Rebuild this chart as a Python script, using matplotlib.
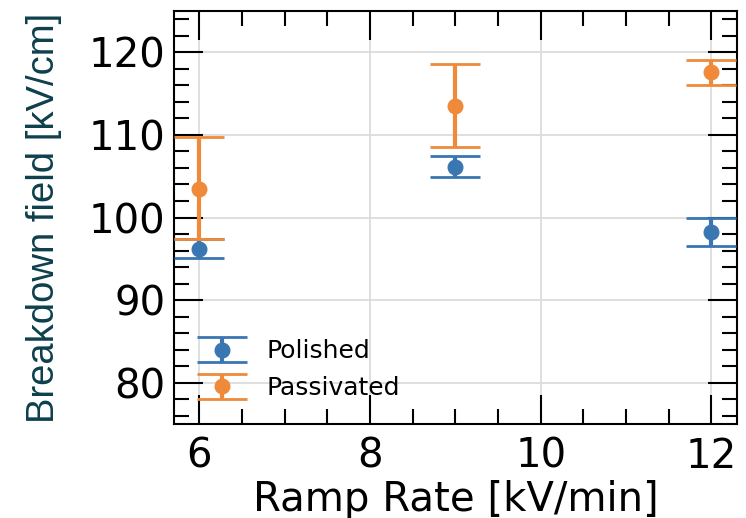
import matplotlib
matplotlib.use("Agg")
import matplotlib.pyplot as plt
from matplotlib.ticker import MultipleLocator

ramp_rate = [6, 9, 12]
polished = [96.2, 106.1, 98.2]
polished_lo = [1.1, 1.2, 1.7]
polished_hi = [1.2, 1.3, 1.7]
passivated = [103.5, 113.5, 117.6]
passivated_lo = [6.1, 5.0, 1.6]
passivated_hi = [6.2, 5.1, 1.5]

blue = '#3a76b2'
orange = '#ef8a3a'

fig = plt.figure(figsize=(7.46, 5.18), dpi=100)
ax = fig.add_axes([0.233, 0.181, 0.755, 0.798])

ax.errorbar(ramp_rate, polished, yerr=[polished_lo, polished_hi], fmt='o',
            color=blue, ms=10.5, elinewidth=3, capsize=18, capthick=2,
            label='Polished', zorder=3)
ax.errorbar(ramp_rate, passivated, yerr=[passivated_lo, passivated_hi], fmt='o',
            color=orange, ms=10.5, elinewidth=3, capsize=18, capthick=2,
            label='Passivated', zorder=3)

ax.set_xlim(5.7, 12.3)
ax.set_ylim(75, 125)
ax.xaxis.set_major_locator(MultipleLocator(2))
ax.xaxis.set_minor_locator(MultipleLocator(0.5))
ax.yaxis.set_major_locator(MultipleLocator(10))
ax.yaxis.set_minor_locator(MultipleLocator(2))
ax.tick_params(which='both', direction='in', top=True, right=True, width=1.5)
ax.tick_params(which='major', length=21, labelsize=29, pad=6)
ax.tick_params(axis='x', which='major', pad=9)
ax.tick_params(which='minor', length=10.5)
for s in ax.spines.values():
    s.set_linewidth(1.5)
ax.grid(True, which='major', color='#dcdcdc', linewidth=1.3)
ax.set_axisbelow(True)

ax.set_xlabel('Ramp Rate [kV/min]', fontsize=29, labelpad=2)
ax.set_ylabel('Breakdown field [kV/cm]', fontsize=27.5, color='#0d3f4c',
              family='Liberation Sans', labelpad=19)

ax.legend(loc='lower left', bbox_to_anchor=(0.027, 0.035), frameon=False,
          fontsize=18, handlelength=1.8, handletextpad=0.9,
          borderaxespad=0.0, labelspacing=0.5)

fig.savefig('out.png', dpi=100)
